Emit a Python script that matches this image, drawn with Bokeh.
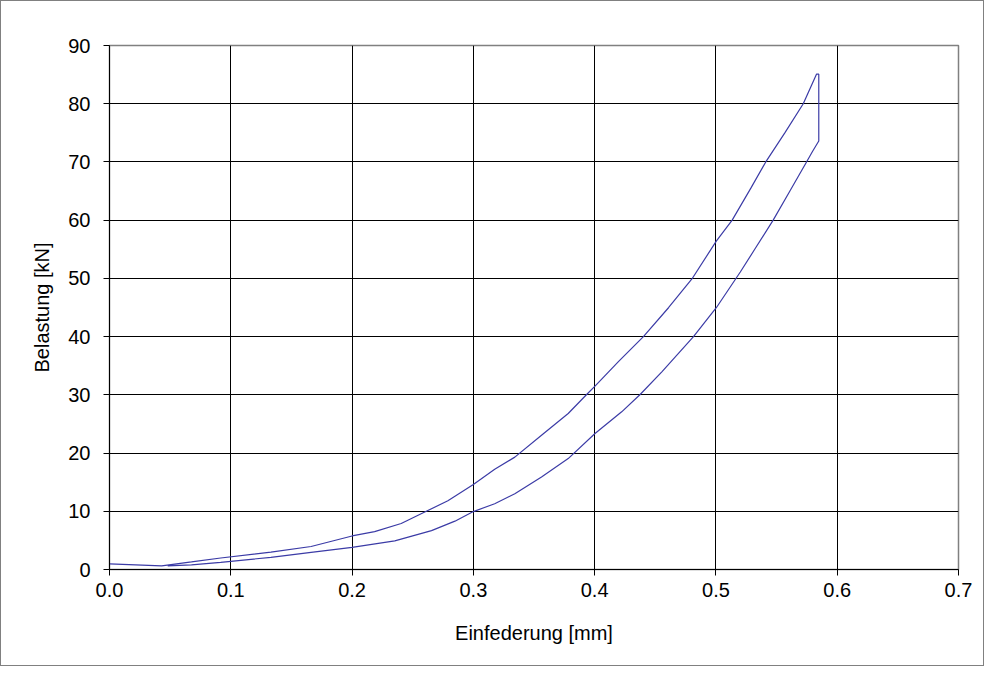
from bokeh.plotting import figure
from bokeh.models import Range1d, FixedTicker
from bokeh.embed import file_html
from bokeh.resources import INLINE

# Loading branch (upper)
load_x = [0.0, 0.043, 0.0676, 0.0917, 0.1331, 0.1662, 0.2, 0.2186, 0.2405, 0.2612,
          0.279, 0.3, 0.3176, 0.3342, 0.3562, 0.3782, 0.3934, 0.4003, 0.4196, 0.4402,
          0.4609, 0.4802, 0.5003, 0.5134, 0.5288, 0.5411, 0.5568, 0.572, 0.5829, 0.5848]
load_y = [0.98, 0.63, 1.3, 1.98, 3.0, 3.95, 5.76, 6.5, 7.9, 10.0,
          11.8, 14.6, 17.2, 19.3, 23.07, 26.8, 30.06, 31.5, 35.7, 40.0,
          44.96, 49.9, 56.4, 60.0, 65.5, 70.0, 75.0, 80.0, 85.07, 85.07]
# Unloading branch (lower)
unload_x = [0.5848, 0.5796, 0.5747, 0.561, 0.5472, 0.532, 0.5201, 0.5003, 0.4815,
            0.4554, 0.4375, 0.4223, 0.4003, 0.3782, 0.3562, 0.3342, 0.3176, 0.3,
            0.2848, 0.2655, 0.2352, 0.2, 0.1662, 0.1331, 0.0917, 0.0676, 0.048]
unload_y = [73.6, 71.8, 70.0, 65.0, 60.0, 55.0, 51.1, 44.96, 40.0,
            33.95, 30.06, 27.08, 23.35, 19.05, 15.9, 13.0, 11.3, 9.95,
            8.3, 6.67, 4.92, 3.79, 2.94, 2.09, 1.24, 0.8, 0.63]

x_ticks = [0.0, 0.1, 0.2, 0.3, 0.4, 0.5, 0.6, 0.7]
y_ticks = [0, 10, 20, 30, 40, 50, 60, 70, 80, 90]
x_label = "Einfederung [mm]"
y_label = "Belastung [kN]"

FONT = "Liberation Sans"

p = figure(width=984, height=666, output_backend="svg", toolbar_location=None,
           x_range=Range1d(0, 0.7), y_range=Range1d(0, 90),
           min_border_left=108, min_border_right=27,
           min_border_top=44, min_border_bottom=98)
p.styles = {"border": "1px solid #808080", "box-sizing": "border-box"}

path_x = load_x + unload_x
path_y = load_y + unload_y
p.line(path_x, path_y, line_color="#3b3ba6", line_width=1.2)

for ax in (p.xaxis[0], p.yaxis[0]):
    ax.axis_line_color = "black"
    ax.major_tick_line_color = "black"
    ax.major_tick_out = 6
    ax.major_tick_in = 0
    ax.minor_tick_line_color = None
    ax.major_label_text_font = FONT
    ax.major_label_text_font_size = "20px"
    ax.major_label_text_color = "black"
    ax.axis_label_text_font = FONT
    ax.axis_label_text_font_size = "20px"
    ax.axis_label_text_font_style = "normal"
    ax.axis_label_text_color = "black"

p.xaxis.ticker = FixedTicker(ticks=x_ticks)
p.yaxis.ticker = FixedTicker(ticks=y_ticks)
p.xaxis.major_label_overrides = {t: f"{t:.1f}" for t in x_ticks}
p.yaxis.major_label_overrides = {t: str(t) for t in y_ticks}
p.xaxis.major_label_standoff = 7
p.yaxis.major_label_standoff = 13

p.xaxis.axis_label = x_label
p.xaxis.axis_label_standoff = 22
p.yaxis.axis_label = y_label
p.yaxis.axis_label_standoff = 12

p.xgrid.ticker = FixedTicker(ticks=x_ticks)
p.ygrid.ticker = FixedTicker(ticks=y_ticks)
p.grid.grid_line_color = "black"
p.grid.grid_line_width = 1
p.outline_line_color = "#808080"
p.outline_line_width = 1.5

open("out.html", "w").write(file_html(p, INLINE))
